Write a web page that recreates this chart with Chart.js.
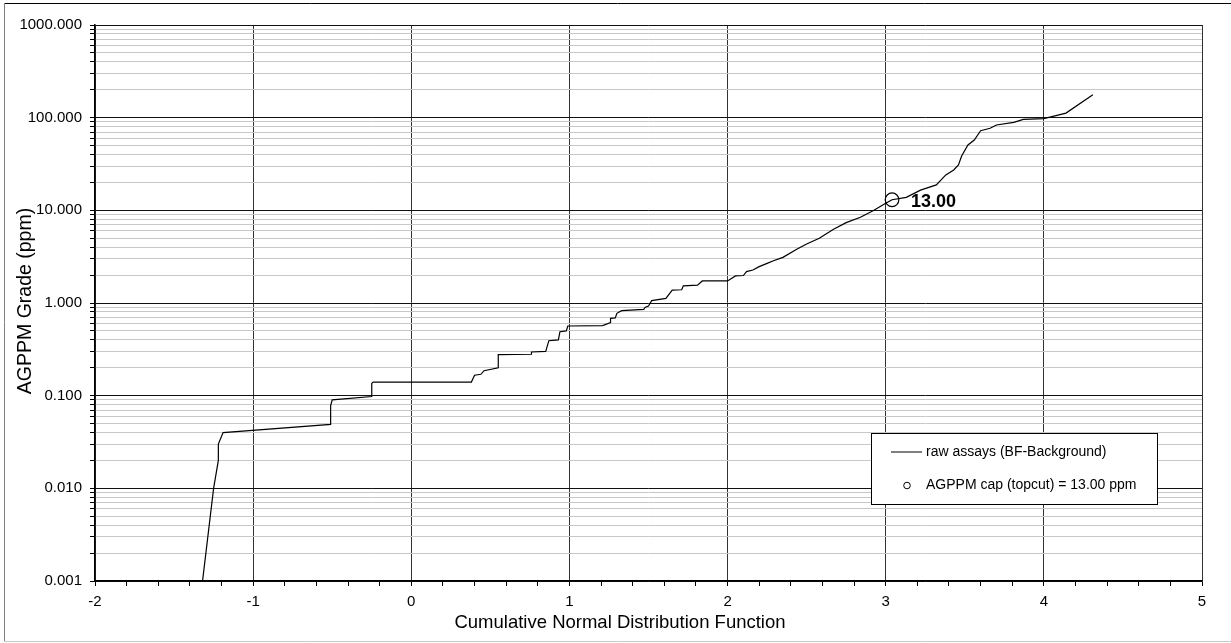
<!DOCTYPE html>
<html>
<head>
<meta charset="utf-8">
<title>AGPPM probability plot</title>
<script src="https://cdn.jsdelivr.net/npm/chart.js@4.4.1/dist/chart.umd.min.js"></script>
<style>
  html, body { margin: 0; padding: 0; background: #fff; }
  #wrap { width: 1231px; height: 643px; }
</style>
</head>
<body>
<div id="wrap"><canvas id="chart-prob" width="1231" height="643"></canvas></div>
<script>
'use strict';

/* ─────────────────────────────────────────────────────────
   DATA
───────────────────────────────────────────────────────── */
// raw assays: normal score (x) vs grade in ppm (y)
const CDF_X = [
  -1.32, -1.25, -1.22, -1.22, -1.19, -0.51, -0.51, -0.50, -0.25, -0.25,
  -0.24,  0.38,  0.40,  0.44,  0.46,  0.55,  0.55,  0.76,  0.76,  0.85,
   0.87,  0.93,  0.94,  0.98,  0.99,  1.21,  1.26,  1.26,  1.29,  1.30,
   1.33,  1.47,  1.48,  1.50,  1.52,  1.61,  1.65,  1.71,  1.72,  1.81,
   1.84,  2.00,  2.05,  2.10,  2.12,  2.16,  2.20,  2.25,  2.29,  2.35,
   2.44,  2.50,  2.58,  2.67,  2.75,  2.84,  2.92,  3.00,  3.04,  3.13,
   3.22,  3.32,  3.38,  3.43,  3.46,  3.48,  3.52,  3.56,  3.60,  3.66,
   3.70,  3.81,  3.87,  4.00,  4.14,  4.31,
];
const GRADE_PPM = [
  0.001, 0.010, 0.020, 0.030, 0.040, 0.049, 0.078, 0.090, 0.098, 0.136,
  0.140, 0.140, 0.166, 0.170, 0.186, 0.200, 0.277, 0.280, 0.296, 0.300,
  0.392, 0.400, 0.490, 0.500, 0.565, 0.570, 0.614, 0.684, 0.690, 0.774,
  0.826, 0.855, 0.900, 0.929, 1.06,  1.12,  1.38,  1.39,  1.53,  1.56,
  1.73,  1.73,  1.96,  1.98,  2.18,  2.27,  2.47,  2.68,  2.86,  3.11,
  3.83,  4.33,  4.99,  6.24,  7.36,  8.41,  9.91,  11.9,  13.0,  13.8,
  16.5,  18.8,  24.1,  27.3,  30.9,  38.6,  50.7,  57.4,  72.4,  76.8,
  83.3,  89.1,  96.0,  97.5,  112,   177,
];

// topcut marker
const CAP_X = [3.04];
const CAP_Y = [13.0];
const CAP_LABEL = '13.00';

// axes
const X_TICKS = [-2, -1, 0, 1, 2, 3, 4, 5];
const Y_TICKS = [0.001, 0.01, 0.1, 1, 10, 100, 1000];
const Y_TICK_LABELS = ['0.001', '0.010', '0.100', '1.000', '10.000', '100.000', '1000.000'];

const SERIES_NAMES = ['raw assays (BF-Background)', 'AGPPM cap (topcut) = 13.00 ppm'];
const X_TITLE = 'Cumulative Normal Distribution Function';
const Y_TITLE = 'AGPPM Grade (ppm)';

/* ─────────────────────────────────────────────────────────
   STYLE
───────────────────────────────────────────────────────── */
const FONT = "'Liberation Sans', Arial, sans-serif";
const GRID_MAJOR_H = '#111';
const GRID_MAJOR_V = '#333';
const GRID_MINOR   = '#c8c8c8';

const LEGEND_BOX = { x: 871, y: 433, w: 286, h: 71 };

/* ─────────────────────────────────────────────────────────
   HELPERS
───────────────────────────────────────────────────────── */
const isDecade  = (v) => Y_TICKS.some(t => Math.abs(v / t - 1) < 1e-6);
const isXMajor  = (v) => X_TICKS.some(t => Math.abs(v - t) < 1e-6);

function buildXTicks(scale) {
  const ticks = [];
  for (let i = 0; i < X_TICKS.length - 1; i++) {
    for (let k = 0; k < 5; k++) {
      ticks.push({ value: Math.round((X_TICKS[i] + k * 0.2) * 10) / 10 });
    }
  }
  ticks.push({ value: X_TICKS[X_TICKS.length - 1] });
  scale.ticks = ticks;
}

function buildYTicks(scale) {
  const ticks = [];
  for (let i = 0; i < Y_TICKS.length - 1; i++) {
    for (let m = 1; m <= 9; m++) {
      ticks.push({ value: parseFloat((m * Y_TICKS[i]).toPrecision(6)) });
    }
  }
  ticks.push({ value: Y_TICKS[Y_TICKS.length - 1] });
  scale.ticks = ticks;
}

/* ─────────────────────────────────────────────────────────
   OVERLAY PLUGIN: frame, axis titles, cap label, legend
───────────────────────────────────────────────────────── */
const overlayPlugin = {
  id: 'overlay',
  afterDraw(chart) {
    const ctx = chart.ctx;
    ctx.save();

    // outer chart frame
    ctx.lineWidth = 1;
    ctx.strokeStyle = '#000';
    ctx.beginPath(); ctx.moveTo(4, 3.5); ctx.lineTo(1231, 3.5); ctx.stroke();
    ctx.strokeStyle = '#808080';
    ctx.beginPath(); ctx.moveTo(4.5, 3); ctx.lineTo(4.5, 642); ctx.stroke();
    ctx.strokeStyle = '#c8c8c8';
    ctx.beginPath(); ctx.moveTo(4, 641.5); ctx.lineTo(1231, 641.5); ctx.stroke();

    // axis titles
    ctx.fillStyle = '#000';
    ctx.textBaseline = 'middle';
    ctx.textAlign = 'center';
    ctx.font = `18.5px ${FONT}`;
    ctx.fillText(X_TITLE, 620, 623);
    ctx.save();
    ctx.translate(25.5, 301);
    ctx.rotate(-Math.PI / 2);
    ctx.font = `19.5px ${FONT}`;
    ctx.fillText(Y_TITLE, 0, 0);
    ctx.restore();

    // cap label next to the marker
    const pt = chart.getDatasetMeta(1).data[0];
    ctx.textAlign = 'left';
    ctx.font = `bold 18px ${FONT}`;
    ctx.fillText(CAP_LABEL, pt.x + 19, pt.y + 2);

    // legend
    const b = LEGEND_BOX;
    ctx.fillStyle = '#fff';
    ctx.fillRect(b.x, b.y, b.w, b.h);
    ctx.strokeStyle = '#000';
    ctx.strokeRect(b.x + 0.5, b.y + 0.5, b.w, b.h);

    ctx.beginPath();
    ctx.moveTo(b.x + 20, b.y + 19);
    ctx.lineTo(b.x + 51, b.y + 19);
    ctx.stroke();

    ctx.beginPath();
    ctx.arc(b.x + 36, b.y + 52.5, 3.3, 0, Math.PI * 2);
    ctx.stroke();

    ctx.fillStyle = '#000';
    ctx.font = `14px ${FONT}`;
    ctx.fillText(SERIES_NAMES[0], b.x + 55, b.y + 19);
    ctx.fillText(SERIES_NAMES[1], b.x + 55, b.y + 52.5);

    ctx.restore();
  },
};

/* ─────────────────────────────────────────────────────────
   CHART
───────────────────────────────────────────────────────── */
const rawPoints = CDF_X.map((x, i) => ({ x, y: GRADE_PPM[i] }));
const capPoints = CAP_X.map((x, i) => ({ x, y: CAP_Y[i] }));

new Chart(document.getElementById('chart-prob'), {
  type: 'scatter',
  data: {
    datasets: [
      {
        label: SERIES_NAMES[0],
        data: rawPoints,
        showLine: true,
        borderColor: '#000',
        borderWidth: 1.2,
        pointRadius: 0,
        tension: 0,
      },
      {
        label: SERIES_NAMES[1],
        data: capPoints,
        showLine: false,
        pointRadius: 6.8,
        pointBorderColor: '#000',
        pointBackgroundColor: 'rgba(0,0,0,0)',
        pointBorderWidth: 1.2,
      },
    ],
  },
  options: {
    responsive: false,
    devicePixelRatio: 1,
    animation: false,
    layout: { padding: { left: 0, top: 25, right: 29, bottom: 0 } },
    plugins: {
      legend: { display: false },
      tooltip: { enabled: false },
    },
    scales: {
      x: {
        type: 'linear',
        min: X_TICKS[0],
        max: X_TICKS[X_TICKS.length - 1],
        afterBuildTicks: buildXTicks,
        afterFit: (scale) => { scale.height = 62; },
        ticks: {
          autoSkip: false,
          maxRotation: 0,
          padding: 7,
          color: '#000',
          font: { family: FONT, size: 15 },
          callback: (v) => (isXMajor(v) ? String(Math.round(v)) : ''),
        },
        grid: {
          color: (c) => (c.tick && isXMajor(c.tick.value) ? GRID_MAJOR_V : 'rgba(0,0,0,0)'),
          tickColor: '#000',
          tickLength: 5,
          lineWidth: 1,
        },
        border: { color: '#000', width: 1.5 },
      },
      y: {
        type: 'logarithmic',
        min: Y_TICKS[0],
        max: Y_TICKS[Y_TICKS.length - 1],
        afterBuildTicks: buildYTicks,
        afterFit: (scale) => { scale.width = 95; },
        ticks: {
          autoSkip: false,
          padding: 8,
          color: '#000',
          font: { family: FONT, size: 15 },
          callback: (v) => {
            const i = Y_TICKS.findIndex(t => Math.abs(v / t - 1) < 1e-6);
            return i >= 0 ? Y_TICK_LABELS[i] : '';
          },
        },
        grid: {
          color: (c) => (c.tick && isDecade(c.tick.value) ? GRID_MAJOR_H : GRID_MINOR),
          tickColor: '#000',
          tickLength: 5,
          lineWidth: 1,
        },
        border: { color: '#000', width: 1.5 },
      },
    },
  },
  plugins: [overlayPlugin],
});
</script>
</body>
</html>
